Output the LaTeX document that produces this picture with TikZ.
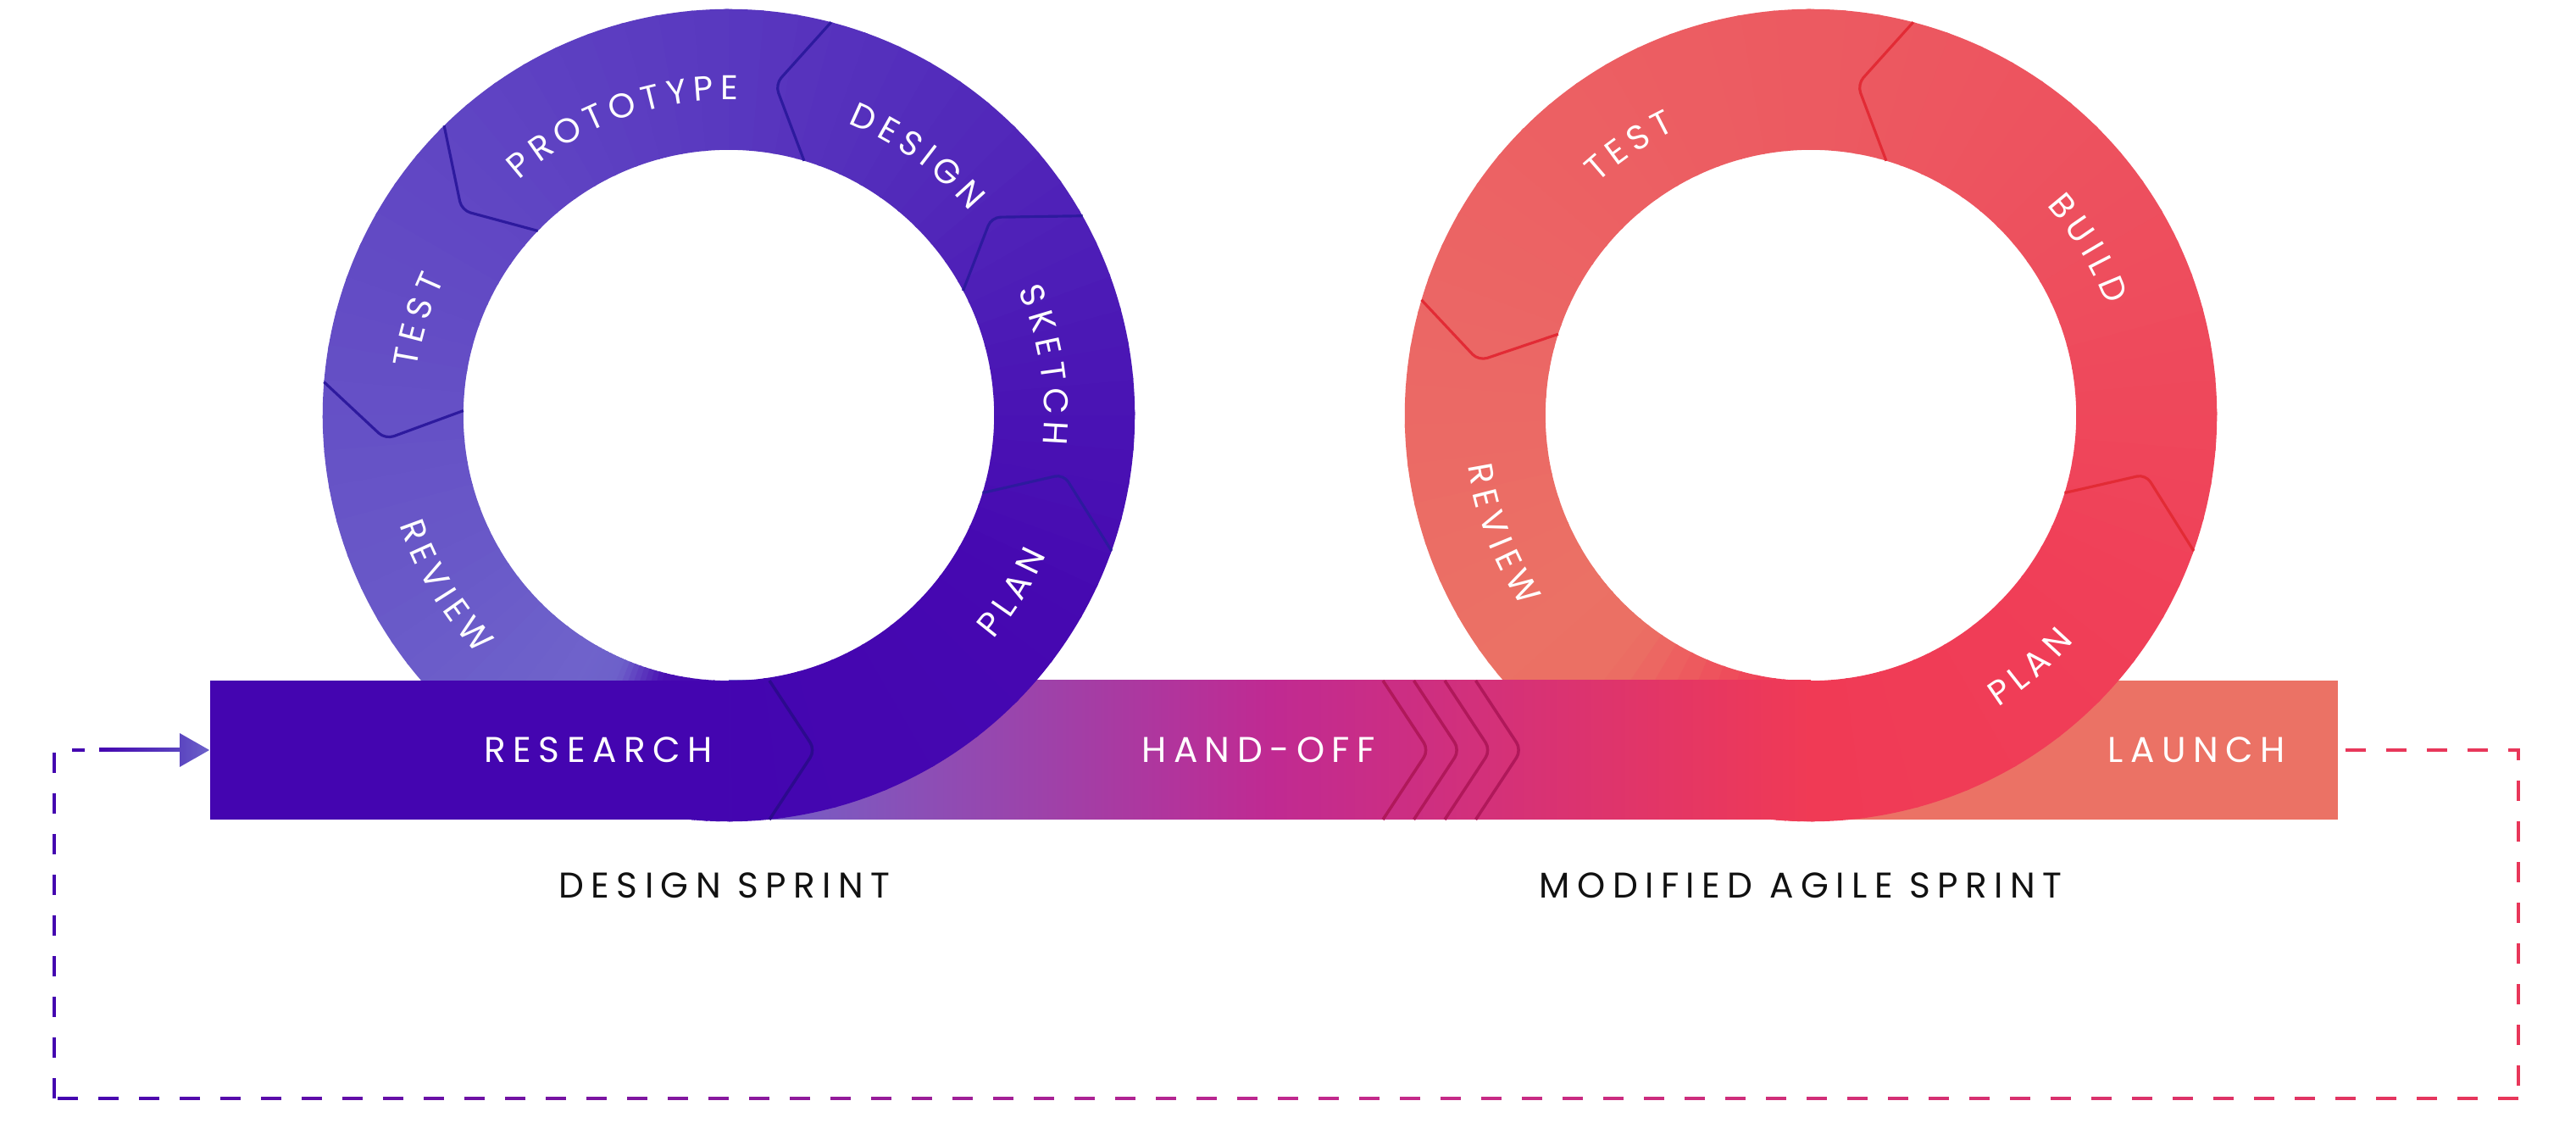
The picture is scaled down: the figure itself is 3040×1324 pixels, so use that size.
\documentclass[tikz,border=0pt]{standalone}
\usepackage{fontspec}
\setmainfont{Poppins}
\newfontfamily\arcfont{Poppins}
\newfontfamily\lblfont{Poppins}[LetterSpace=20]
\usetikzlibrary{calc}

\definecolor{cRsch}{HTML}{4405B0}
\definecolor{cLaunch}{HTML}{EB7265}
\definecolor{cBarL}{HTML}{6E63CA}
\definecolor{cBarM}{HTML}{C02A92}
\definecolor{cBarR}{HTML}{F03A55}
\definecolor{cLdiv}{HTML}{2D1A9E}
\definecolor{cRdiv}{HTML}{E22B35}
\definecolor{cChev}{HTML}{B0185A}
\definecolor{cRchev}{HTML}{2C0A8E}
\definecolor{cTitle}{HTML}{111111}
\definecolor{cLoopL}{HTML}{4405B0}
\definecolor{cLoopM}{HTML}{C0288E}
\definecolor{cLoopR}{HTML}{E8375A}
\definecolor{cArrowM}{HTML}{5B45C0}
\definecolor{cArrowR}{HTML}{6E63CA}
% left ring stops
\definecolor{lA}{HTML}{4405B0}
\definecolor{lB}{HTML}{4608B1}
\definecolor{lC}{HTML}{4B17B5}
\definecolor{lD}{HTML}{5229BA}
\definecolor{lE}{HTML}{5938BF}
\definecolor{lF}{HTML}{5F44C3}
\definecolor{lG}{HTML}{644EC5}
\definecolor{lH}{HTML}{6959C8}
\definecolor{lI}{HTML}{6F63CB}
\definecolor{lJ}{HTML}{6D60CA}
\definecolor{lK}{HTML}{4A10B2}
% right ring stops
\definecolor{rA}{HTML}{F03A55}
\definecolor{rB}{HTML}{F03F58}
\definecolor{rC}{HTML}{EE4A5C}
\definecolor{rD}{HTML}{ED535F}
\definecolor{rE}{HTML}{EC5A61}
\definecolor{rF}{HTML}{EC6063}
\definecolor{rG}{HTML}{EB6765}
\definecolor{rH}{HTML}{EB7165}
\definecolor{rI}{HTML}{EB7064}
\definecolor{rJ}{HTML}{F03D57}

\newcommand\arcsize{\arcfont\fontsize{11.5pt}{13pt}\selectfont}
\newcommand\barsize{\lblfont\fontsize{12pt}{14pt}\selectfont}
\newcommand\titlesize{\lblfont\fontsize{12pt}{14pt}\selectfont}
\newbox\rlbox
\newdimen\rlsumdim
\newdimen\rlcumdim
\newdimen\rlwdim
\def\rlsp{2.1}

% conic colour segment of a ring: #1 centre, #2 a0, #3 a1, #4 colour at a0, #5 colour at a1
\newcommand\wedgeseg[5]{%
  \foreach \i in {0,...,7}{%
    \pgfmathsetmacro\wa{#2+(#3-#2)*\i/8}%
    \pgfmathsetmacro\wb{#2+(#3-#2)*(\i+1)/8+0.5}%
    \pgfmathsetmacro\wp{(\i+0.5)*12.5}%
    \fill[#5!\wp!#4] ($(#1)+(\wa:3.13cm)$) arc[start angle=\wa, end angle=\wb, radius=3.13cm]
      -- ($(#1)+(\wb:4.79cm)$) arc[start angle=\wb, end angle=\wa, radius=4.79cm] -- cycle;
  }}

% divider: #1 centre, #2 inner angle, #3 vertex angle, #4 vertex radius (cm), #5 outer angle, #6 style
\newcommand\ringdiv[6]{%
  \draw[#6] ($(#1)+(#2:3.13cm)$) -- ($(#1)+(#3:#4cm)$) -- ($(#1)+(#5:4.79cm)$);}

% measure one character (outside picture mode so the font is real)
\newcommand\rlmeasure[1]{%
  \pgfinterruptpicture\global\setbox\rlbox=\hbox{\arcsize #1}\endpgfinterruptpicture}

% text on ring: #1 centre, #2 baseline radius (cm), #3 mid angle, #4 dir (1 ccw / -1 cw), #5 name, #6 letters
\newcommand\ringlabel[6]{%
  \global\rlsumdim=0pt\relax
  \foreach \ch in {#6}{%
    \rlmeasure{\ch}%
    \global\advance\rlsumdim by \wd\rlbox\relax
    \global\advance\rlsumdim by \rlsp pt\relax
  }%
  \pgfmathsetmacro\rlk{57.29578/(#2*28.4528)}%
  \pgfmathsetmacro\rlstart{#3-(#4)*(\rlsumdim-\rlsp)/2*\rlk}%
  \global\rlcumdim=0pt\relax
  \foreach \ch [count=\n] in {#6}{%
    \rlmeasure{\ch}%
    \rlwdim=\wd\rlbox\relax
    \pgfmathsetmacro\rla{\rlstart+(#4)*(\rlcumdim+0.5*\rlwdim)*\rlk}%
    \pgfmathsetmacro\rlrot{\rla+(#4)*90}%
    \node[arclbl, rotate=\rlrot] (#5-\n) at ($(#1)+(\rla:#2cm)$) {\ch};
    \global\advance\rlcumdim by \rlwdim\relax
    \global\advance\rlcumdim by \rlsp pt\relax
  }%
}

\begin{document}
\begin{tikzpicture}[x=0.01cm, y=0.01cm,
  barbox/.style={rectangle, inner sep=0pt, minimum height=1.64cm, draw=none},
  barlbl/.style={text=white, font=\barsize, inner sep=0pt},
  titlelbl/.style={text=cTitle, font=\titlesize, inner sep=0pt},
  arclbl/.style={text=white, font=\arcsize, inner sep=0pt, anchor=base},
  ldiv/.style={draw=cLdiv, line width=0.9pt, rounded corners=3pt},
  rdiv/.style={draw=cRdiv, line width=0.9pt, rounded corners=3pt},
  chev/.style={draw=cChev, line width=1pt, rounded corners=3pt},
  rchev/.style={draw=cRchev, line width=1pt, rounded corners=3pt},
  loopdash/.style={line width=1pt, dash pattern=on 6.83pt off 6.83pt},
  loopseg/.style={line width=1pt}
]
\useasboundingbox (0,0) rectangle (3040,1324);
\coordinate (L) at (860,834);
\coordinate (R) at (2137,834);

% launch box (under right ring)
\node[barbox, fill=cLaunch, minimum width=6.22cm] (launch) at (2448,439) {};

% right ring
\wedgeseg{R}{-90}{-30}{rA}{rB}
\wedgeseg{R}{-30}{10}{rB}{rC}
\wedgeseg{R}{10}{50}{rC}{rD}
\wedgeseg{R}{50}{90}{rD}{rE}
\wedgeseg{R}{90}{130}{rE}{rF}
\wedgeseg{R}{130}{170}{rF}{rG}
\wedgeseg{R}{170}{215}{rG}{rH}
\wedgeseg{R}{215}{232}{rH}{rI}
\wedgeseg{R}{232}{262}{rI}{rJ}
\wedgeseg{R}{262}{270}{rJ}{rA}
\ringdiv{R}{-17}{-10}{4.01}{-19.5}{rdiv}
\ringdiv{R}{73.5}{82}{3.94}{75.4}{rdiv}
\ringdiv{R}{162.2}{170.7}{3.97}{163.5}{rdiv}
\ringlabel{R}{3.72}{124}{-1}{rtest}{T,E,S,T}
\ringlabel{R}{3.72}{31}{-1}{rbuild}{B,U,I,L,D}
\ringlabel{R}{4.09}{201}{1}{rreview}{R,E,V,I,E,W}
\ringlabel{R}{4.09}{-49}{1}{rplan}{P,L,A,N}

% hand-off gradient bar
\shade[left color=cBarL, right color=cBarR, middle color=cBarM] (860,357) rectangle (2137,521);
\foreach \i in {0,1,2,3}{
  \pgfmathsetmacro\cx{1632+36.5*\i}
  \draw[chev] (\cx,521) -- (\cx+54,439) -- (\cx,357);
}
\node[barlbl] (handoff) at (1485,439) {HAND-OFF};

% left ring
\wedgeseg{L}{-90}{-30}{lA}{lB}
\wedgeseg{L}{-30}{10}{lB}{lC}
\wedgeseg{L}{10}{50}{lC}{lD}
\wedgeseg{L}{50}{90}{lD}{lE}
\wedgeseg{L}{90}{130}{lE}{lF}
\wedgeseg{L}{130}{170}{lF}{lG}
\wedgeseg{L}{170}{210}{lG}{lH}
\wedgeseg{L}{210}{240}{lH}{lI}
\wedgeseg{L}{240}{247}{lI}{lJ}
\wedgeseg{L}{247}{256}{lJ}{lK}
\wedgeseg{L}{256}{270}{lK}{lA}
\ringdiv{L}{-17}{-10}{4.01}{-19.5}{ldiv}
\ringdiv{L}{28}{37}{3.88}{29.4}{ldiv}
\ringdiv{L}{73.5}{82}{3.94}{75.4}{ldiv}
\ringdiv{L}{136}{142.5}{3.97}{134.5}{ldiv}
\ringdiv{L}{179}{184}{4.06}{175.3}{ldiv}
\ringlabel{L}{3.72}{110}{-1}{lproto}{P,R,O,T,O,T,Y,P,E}
\ringlabel{L}{3.72}{54}{-1}{ldesign}{D,E,S,I,G,N}
\ringlabel{L}{3.72}{9}{-1}{lsketch}{S,K,E,T,C,H}
\ringlabel{L}{4.09}{-32}{1}{lplan}{P,L,A,N}
\ringlabel{L}{4.09}{211}{1}{lreview}{R,E,V,I,E,W}
\ringlabel{L}{3.72}{163}{-1}{ltest}{T,E,S,T}

% research box
\node[barbox, fill=cRsch, minimum width=6.12cm] (research) at (554,439) {};
\draw[rchev] (908,521) -- (962,439) -- (908,357);
\node[barlbl] (researchtxt) at (706,439) {RESEARCH};
\node[barlbl] (launchtxt) at (2592,439) {LAUNCH};

% titles
\node[titlelbl] (dsprint) at (855,279) {DESIGN SPRINT};
\node[titlelbl] (asprint) at (2125,279) {MODIFIED AGILE SPRINT};

% feedback loop
\coordinate (lstart) at ($(launch.east)+(8,0)$);
\coordinate (lr1) at (2972,439);
\coordinate (lr2) at (2972,28);
\coordinate (ll2) at (64,28);
\coordinate (ll1) at (64,439);
\coordinate (lend) at (100,439);
\draw[loopdash, draw=cLoopR] (lstart) -- (lr1) -- (lr2);
\foreach \k in {0,...,30}{
  \pgfmathsetmacro\xa{2972-48*\k}
  \pgfmathsetmacro\xb{\xa-24}
  \pgfmathsetmacro\tp{max(0,min(100,(\xa-12-1518)/14.54))}
  \draw[loopseg, draw=cLoopR!\tp!cLoopM] (\xa,28) -- (\xb,28);
}
\foreach \k in {31,...,60}{
  \pgfmathsetmacro\xa{2972-48*\k}
  \pgfmathsetmacro\xb{\xa-24}
  \pgfmathsetmacro\tp{max(0,min(100,(\xa-12-64)/14.54))}
  \draw[loopseg, draw=cLoopM!\tp!cLoopL] (\xa,28) -- (\xb,28);
}
\draw[loopdash, draw=cLoopL] (ll2) -- (ll1) -- (lend);
\coordinate (astart) at (117,439);
\shade[left color=cLoopL, right color=cArrowM] (astart) ++(0,-2) rectangle (214,441);
\shade[left color=cArrowM, right color=cArrowR] (212,459) -- (research.west) -- (212,419) -- cycle;
\end{tikzpicture}
\end{document}
